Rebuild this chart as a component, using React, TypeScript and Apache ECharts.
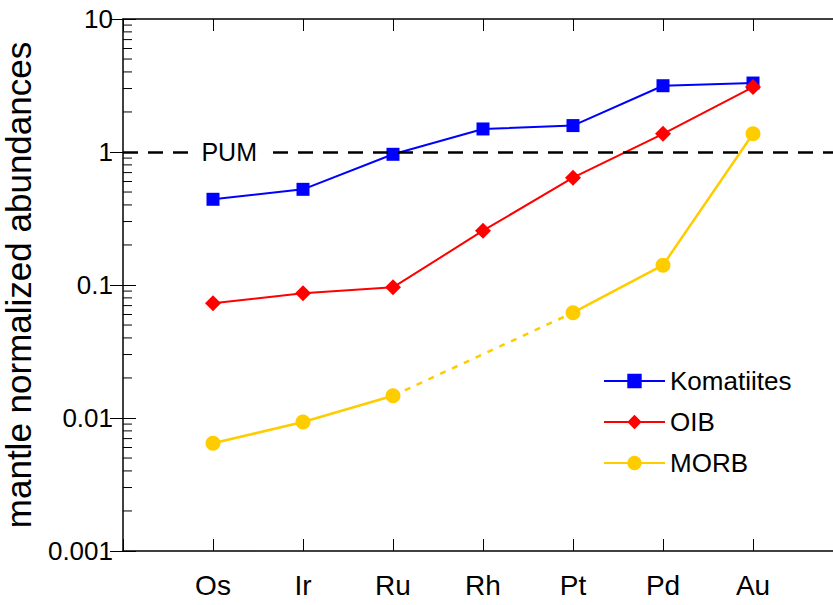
import React, { useEffect, useRef } from "react";
import * as echarts from "echarts";

const categories = ["Os", "Ir", "Ru", "Rh", "Pt", "Pd", "Au"];
const komatiites = [0.441, 0.524, 0.961, 1.49, 1.58, 3.15, 3.3];
const oib = [0.0728, 0.0866, 0.096, 0.256, 0.641, 1.37, 3.08];
const morb: (number | null)[] = [0.00645, 0.00933, 0.0147, null, 0.0619, 0.141, 1.37];
const yTicks = [0.001, 0.01, 0.1, 1, 10];
const pumValue = 1;
const pumLabel = "PUM";

const FONT = "'Liberation Sans', Arial, Helvetica, sans-serif";

export default function App() {
  const ref = useRef<HTMLDivElement>(null);
  useEffect(() => {
    document.body.style.margin = "0";
    const chart = echarts.init(ref.current!, null, { renderer: "svg" });
    const toPts = (arr: (number | null)[]) =>
      arr.map((v, i) => [i + 1, v == null ? "-" : v]);
    // dotted gap segment for MORB across missing value(s)
    const gapPts: any[] = [];
    morb.forEach((v, i) => {
      if (v == null) {
        let a = i - 1;
        let b = i + 1;
        while (a >= 0 && morb[a] == null) a--;
        while (b < morb.length && morb[b] == null) b++;
        if (a >= 0 && b < morb.length && gapPts.length === 0) {
          gapPts.push([a + 1, morb[a]], [b + 1, morb[b]]);
        }
      }
    });
    const option: any = {
      animation: false,
      backgroundColor: "#fff",
      textStyle: { fontFamily: FONT },
      grid: {
        left: 123,
        top: 19,
        width: 720,
        height: 532,
        containLabel: false,
        outerBoundsMode: "none",
        show: false,
      },
      xAxis: [
        {
          type: "value",
          min: 0,
          max: categories.length + 1,
          interval: 1,
          position: "bottom",
          axisLine: { lineStyle: { color: "#000", width: 1.5 } },
          axisTick: { inside: true, length: 12, lineStyle: { color: "#000", width: 1 } },
          axisLabel: {
            formatter: (v: number) => categories[v - 1] ?? "",
            color: "#000",
            fontSize: 28,
            fontFamily: FONT,
            margin: 20,
          },
          splitLine: { show: false },
        },
        {
          type: "value",
          min: 0,
          max: categories.length + 1,
          interval: 1,
          position: "top",
          axisLine: { lineStyle: { color: "#000", width: 1.5 } },
          axisTick: { inside: true, length: 12, lineStyle: { color: "#000", width: 1 } },
          axisLabel: { show: false },
          splitLine: { show: false },
        },
      ],
      yAxis: [
        {
          type: "log",
          logBase: 10,
          min: yTicks[0],
          max: yTicks[yTicks.length - 1],
          position: "left",
          name: "mantle normalized abundances",
          nameLocation: "middle",
          nameGap: 87,
          nameTextStyle: { color: "#000", fontSize: 35, fontFamily: FONT },
          axisLine: { lineStyle: { color: "#000", width: 1.5 } },
          axisTick: { inside: true, length: 13, lineStyle: { color: "#000", width: 1 } },
          axisLabel: {
            color: "#000",
            fontSize: 26,
            fontFamily: FONT,
            margin: 10,
            formatter: (v: number) => String(v),
          },
          splitLine: { show: false },
        },
        {
          type: "log",
          logBase: 10,
          min: yTicks[0],
          max: yTicks[yTicks.length - 1],
          position: "right",
          axisLine: { show: false },
          axisTick: { show: true, inside: true, length: 13, lineStyle: { color: "#000", width: 1 } },
          axisLabel: { show: false },
          splitLine: { show: false },
        },
      ],
      legend: {
        data: ["Komatiites", "OIB", "MORB"],
        orient: "vertical",
        left: 603,
        top: 368,
        padding: 0,
        itemWidth: 61,
        itemHeight: 18,
        itemGap: 15,
        textStyle: { color: "#000", fontSize: 26, fontFamily: FONT },
      },
      series: [
        {
          name: "PUMline",
          type: "line",
          data: [],
          markLine: {
            silent: true,
            symbol: "none",
            lineStyle: { color: "#000", type: [15, 10], width: 2.5 },
            label: { show: false },
            data: [{ yAxis: pumValue }],
          },
          markPoint: {
            silent: true,
            symbol: "rect",
            symbolSize: 1,
            itemStyle: { color: "rgba(0,0,0,0)" },
            label: {
              show: true,
              formatter: pumLabel,
              color: "#000",
              fontSize: 25,
              fontFamily: FONT,
              backgroundColor: "#fff",
              padding: [2, 6, 2, 6],
              position: "inside",
            },
            data: [{ coord: [1.18, pumValue] }],
          },
        },
        {
          name: "MORB gap",
          type: "line",
          data: gapPts,
          symbol: "none",
          connectNulls: true,
          lineStyle: { color: "#ffcc00", width: 2.5, type: [6, 7] },
          z: 2,
        },
        {
          name: "Komatiites",
          type: "line",
          data: toPts(komatiites),
          symbol: "rect",
          symbolSize: 13,
          lineStyle: { color: "#0000ff", width: 2 },
          itemStyle: { color: "#0000ff" },
          z: 4,
        },
        {
          name: "OIB",
          type: "line",
          data: toPts(oib),
          symbol: "diamond",
          symbolSize: 16,
          lineStyle: { color: "#ff0000", width: 2 },
          itemStyle: { color: "#ff0000" },
          z: 4,
        },
        {
          name: "MORB",
          type: "line",
          data: toPts(morb),
          symbol: "circle",
          symbolSize: 15,
          connectNulls: false,
          lineStyle: { color: "#ffcc00", width: 2.5 },
          itemStyle: { color: "#ffcc00" },
          z: 3,
        },
      ],
    };
    chart.setOption(option);

    // log-spaced minor ticks on the left axis
    const x0 = chart.convertToPixel({ xAxisIndex: 0 }, 0) as number;
    const graphics: any[] = [];
    for (let d = 0; d < yTicks.length - 1; d++) {
      for (let k = 2; k <= 9; k++) {
        const v = yTicks[d] * k;
        const y = chart.convertToPixel({ yAxisIndex: 0 }, v) as number;
        graphics.push({
          type: "line",
          shape: { x1: x0, y1: y, x2: x0 + 9, y2: y },
          style: { stroke: "#000", lineWidth: 1 },
          silent: true,
        });
      }
    }
    chart.setOption({ graphic: graphics });

    return () => chart.dispose();
  }, []);
  return <div ref={ref} style={{ width: 833, height: 605, overflow: "hidden" }} />;
}
